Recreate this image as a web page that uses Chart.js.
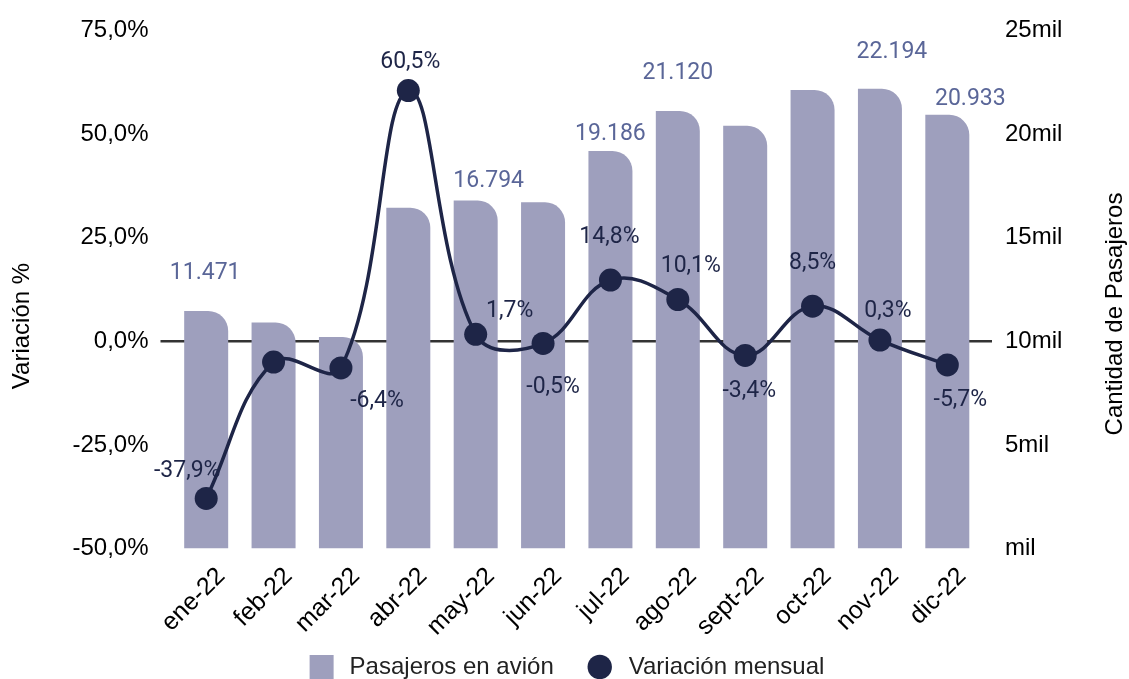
<!DOCTYPE html>
<html lang="es">
<head>
<meta charset="utf-8">
<title>Pasajeros en avión 2022</title>
<script src="https://cdn.jsdelivr.net/npm/chart.js@4/dist/chart.umd.min.js"></script>
<style>
  html, body { margin: 0; padding: 0; background: #fff; }
  #contenedor { width: 1129px; height: 679px; position: relative; }
</style>
</head>
<body>
<div id="contenedor"><canvas id="grafico"></canvas></div>
<script>
// datos
const meses = ["ene-22", "feb-22", "mar-22", "abr-22", "may-22", "jun-22",
  "jul-22", "ago-22", "sept-22", "oct-22", "nov-22", "dic-22"];
const pasajeros = [11471, 10910, 10210, 16450, 16794, 16710, 19186, 21120, 20400, 22130, 22194, 20933];
const variacion = [-37.9, -5.0, -6.4, 60.5, 1.7, -0.5, 14.8, 10.1, -3.4, 8.5, 0.3, -5.7];
const ticksVariacion = [-50, -25, 0, 25, 50, 75];
const ticksPasajeros = [0, 5000, 10000, 15000, 20000, 25000];

// donde va cada etiqueta respecto a su barra / punto (null = sin etiqueta)
const desplazBarras = [[-1, -38], null, null, null, [13, -19], null, [0, -17], [0, -38], null, null, [12, -36], [23, -16]];
const desplazLinea = [[-19, -27], null, [36, 33], [2, -28], [34, -23], [10, 44], [-1, -43], [13, -33], [4, 36], [0, -43], [8, -29], [13, 35]];

const colorBarra = "#9e9fbd";
const colorLinea = "#1e2547";
const colorEtiqBarra = "#5a6698";
const fuenteEje = '"Liberation Sans", Arial, sans-serif';

function formatoMiles(v) {
  return String(v).replace(/\B(?=(\d{3})+(?!\d))/g, ".");
}
function formatoPct(v) {
  return v.toFixed(1).replace(".", ",") + "%";
}

// ancho fijo del eje y sin el relleno vertical que añade ticks.padding
function fijarAncho(ancho) {
  return s => {
    s.width = ancho;
    s.paddingTop = 14;
    s.paddingBottom = 14;
  };
}

const etiquetas = {
  id: "etiquetas",
  beforeDatasetsDraw(chart) {
    const ctx = chart.ctx;
    const area = chart.chartArea;
    const y0 = chart.scales.y.getPixelForValue(0);
    ctx.save();
    ctx.strokeStyle = "#333";
    ctx.lineWidth = 2.5;
    ctx.beginPath();
    ctx.moveTo(area.left - 12, y0);
    ctx.lineTo(area.right + 11, y0);
    ctx.stroke();
    ctx.restore();
  },
  afterDatasetsDraw(chart) {
    const ctx = chart.ctx;
    const barras = chart.getDatasetMeta(0).data;
    const puntos = chart.getDatasetMeta(1).data;
    ctx.save();
    ctx.font = '23px Roboto, "Liberation Sans", sans-serif';
    ctx.textAlign = "center";
    ctx.textBaseline = "middle";
    ctx.fillStyle = colorEtiqBarra;
    barras.forEach((el, i) => {
      const d = desplazBarras[i];
      if (!d) return;
      ctx.fillText(formatoMiles(pasajeros[i]), el.x + d[0], el.y + d[1]);
    });
    ctx.fillStyle = colorLinea;
    puntos.forEach((el, i) => {
      const d = desplazLinea[i];
      if (!d) return;
      ctx.fillText(formatoPct(variacion[i]), el.x + d[0], el.y + d[1]);
    });
    ctx.restore();
  },
  afterDraw(chart) {
    const ctx = chart.ctx;
    ctx.save();
    ctx.fillStyle = "#000";
    ctx.font = "24px " + fuenteEje;
    ctx.textAlign = "center";
    ctx.textBaseline = "middle";
    // títulos de los ejes, ambos de abajo hacia arriba
    ctx.save();
    ctx.translate(22, 326);
    ctx.rotate(-Math.PI / 2);
    ctx.fillText("Variación %", 0, 0);
    ctx.restore();
    ctx.save();
    ctx.translate(1115, 314);
    ctx.rotate(-Math.PI / 2);
    ctx.fillText("Cantidad de Pasajeros", 0, 0);
    ctx.restore();

    // leyenda
    const t1 = chart.data.datasets[0].label;
    const t2 = chart.data.datasets[1].label;
    const w1 = ctx.measureText(t1).width;
    const w2 = ctx.measureText(t2).width;
    const caja = 24;
    const total = caja + 16 + w1 + 34 + caja + 17 + w2;
    let x = 567 - total / 2;
    const yc = 667;
    ctx.textAlign = "left";
    ctx.fillStyle = colorBarra;
    ctx.fillRect(x, yc - caja / 2, caja, caja);
    x += caja + 16;
    ctx.fillStyle = "#222";
    ctx.fillText(t1, x, yc);
    x += w1 + 34;
    ctx.fillStyle = colorLinea;
    ctx.beginPath();
    ctx.arc(x + caja / 2, yc, 12.2, 0, Math.PI * 2);
    ctx.fill();
    x += caja + 17;
    ctx.fillStyle = "#222";
    ctx.fillText(t2, x, yc);
    ctx.restore();
  }
};

Chart.defaults.font.family = fuenteEje;
Chart.defaults.font.size = 24;
Chart.defaults.color = "#000";

const ctx = document.getElementById("grafico").getContext("2d");
new Chart(ctx, {
  type: "bar",
  data: {
    labels: meses,
    datasets: [
      {
        type: "bar",
        label: "Pasajeros en avión",
        data: pasajeros,
        yAxisID: "y1",
        backgroundColor: colorBarra,
        borderRadius: { topLeft: 0, topRight: 20, bottomLeft: 0, bottomRight: 0 },
        borderSkipped: false,
        categoryPercentage: 1,
        barPercentage: 0.653,
        order: 2
      },
      {
        type: "line",
        label: "Variación mensual",
        data: variacion,
        yAxisID: "y",
        borderColor: colorLinea,
        borderWidth: 3.5,
        pointRadius: 11.5,
        pointHoverRadius: 11.5,
        pointBackgroundColor: colorLinea,
        pointBorderWidth: 0,
        tension: 0.4,
        order: 1
      }
    ]
  },
  options: {
    responsive: true,
    maintainAspectRatio: false,
    animation: false,
    layout: { padding: { top: 30.5, bottom: 40.4, left: 0, right: 0 } },
    plugins: {
      legend: { display: false },
      tooltip: { enabled: false }
    },
    scales: {
      x: {
        grid: { display: false, drawTicks: false },
        border: { display: false },
        ticks: { minRotation: 45, maxRotation: 45, padding: 13, labelOffset: 15, autoSkip: false, font: { size: 25 } },
        afterFit(s) { s.height = 90; }
      },
      y: {
        position: "left",
        min: -50,
        max: 75,
        grid: { display: false, drawTicks: false },
        border: { display: false },
        afterBuildTicks(s) { s.ticks = ticksVariacion.map(v => ({ value: v })); },
        ticks: { padding: 24, callback: v => formatoPct(v) },
        afterFit: fijarAncho(172.5)
      },
      y1: {
        position: "right",
        min: 0,
        max: 25000,
        grid: { display: false, drawTicks: false },
        border: { display: false },
        afterBuildTicks(s) { s.ticks = ticksPasajeros.map(v => ({ value: v })); },
        ticks: { padding: 24, callback: v => (v === 0 ? "" : v / 1000) + "mil" },
        afterFit: fijarAncho(148)
      }
    }
  },
  plugins: [etiquetas]
});
</script>
</body>
</html>
